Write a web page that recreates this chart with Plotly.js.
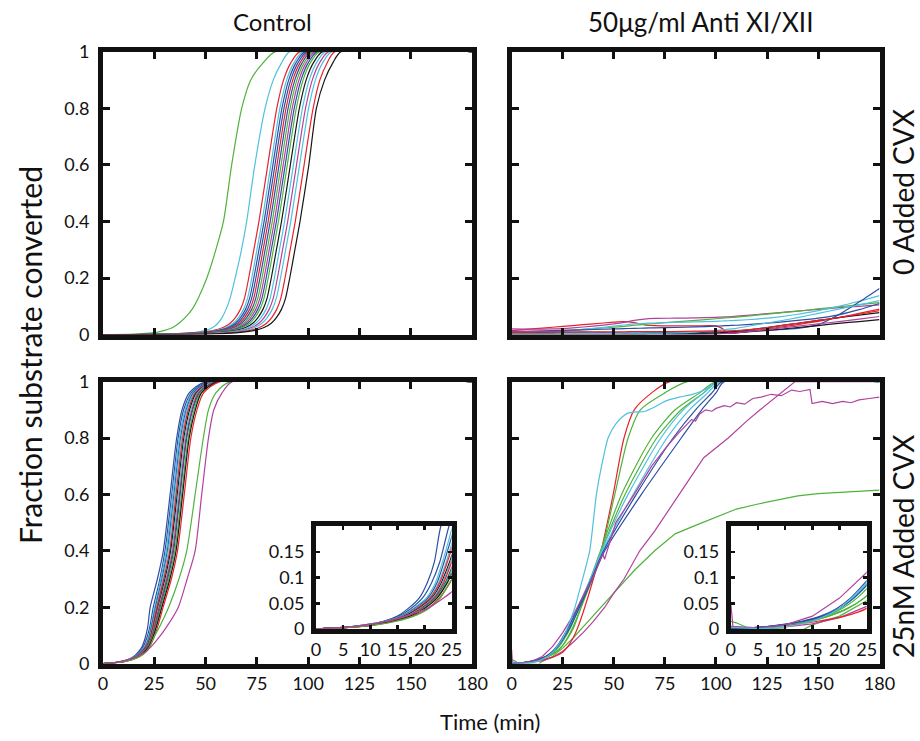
<!DOCTYPE html>
<html>
<head>
<meta charset="utf-8">
<script src="https://cdn.plot.ly/plotly-3.0.1.min.js"></script>
<style>html,body{margin:0;padding:0;background:#fff;}#chart{width:920px;height:741px;}</style>
</head>
<body>
<div id="chart"></div>
<script>
// ---------------- DATA ----------------
// Fraction-converted levels; each sigmoid curve below lists the time (min) at which it reaches each level.
const LEVELS = [0, 0.003, 0.008, 0.015, 0.025, 0.04, 0.06, 0.09, 0.13, 0.2, 0.3, 0.4, 0.6, 0.8, 0.9, 0.96, 1, 1];

// Control, 0 added CVX
const CTRL0_TIMES = [
  [0, 18, 26, 30, 34, 37, 40, 43.5, 46.5, 50.6, 55, 58.7, 62.7, 67.6, 72, 78, 84, 180],
  [0, 35, 45, 50, 53.5, 56, 58, 60, 62, 64.4, 67.5, 70, 74, 79, 83, 87, 91, 180],
  [0, 35, 47, 54, 58.5, 62, 64.5, 67, 69, 71, 73.5, 76, 80.3, 84.7, 88, 91.5, 96, 180],
  [0, 36.5, 48.5, 55.5, 60, 63.5, 66, 68.5, 70.5, 72.5, 75, 77.5, 81.8, 86.2, 89.5, 93, 97.5, 180],
  [0, 37.5, 49.5, 56.5, 61, 64.5, 67, 69.5, 71.5, 73.5, 76, 78.5, 82.8, 87.2, 90.5, 94, 98.5, 180],
  [0, 38.5, 50.5, 57.5, 62, 65.5, 68, 70.5, 72.5, 74.5, 77, 79.5, 83.8, 88.2, 91.5, 95, 99.5, 180],
  [0, 39.5, 51.5, 58.5, 63, 66.5, 69, 71.5, 73.5, 75.5, 78, 80.5, 84.8, 89.2, 92.5, 96, 100.5, 180],
  [0, 40.5, 52.5, 59.5, 64, 67.5, 70, 72.5, 74.5, 76.5, 79, 81.5, 85.8, 90.2, 93.5, 97, 101.5, 180],
  [0, 41.5, 53.5, 60.5, 65, 68.5, 71, 73.5, 75.5, 77.5, 80, 82.5, 86.8, 91.2, 94.5, 98, 102.5, 180],
  [0, 42.5, 54.5, 61.5, 66, 69.5, 72, 74.5, 76.5, 78.5, 81, 83.5, 87.8, 92.2, 95.5, 99, 103.5, 180],
  [0, 43.5, 55.5, 62.5, 67, 70.5, 73, 75.5, 77.5, 79.5, 82, 84.5, 88.8, 93.2, 96.5, 100, 104.5, 180],
  [0, 44.5, 56.5, 63.5, 68, 71.5, 74, 76.5, 78.5, 80.5, 83, 85.5, 89.8, 94.2, 97.5, 101, 105.5, 180],
  [0, 46, 58, 65, 69.5, 73, 75.5, 78, 80, 82, 84.5, 87, 91.3, 95.7, 99, 102.5, 107, 180],
  [0, 47.5, 59.5, 66.5, 71, 74.5, 77, 79.5, 81.5, 83.5, 86, 88.5, 92.8, 97.2, 100.5, 104, 108.5, 180],
  [0, 49, 61, 68, 72.5, 76, 78.5, 81, 83, 85, 87.5, 90, 94.3, 98.7, 102, 105.5, 110, 180],
  [0, 50.5, 62.5, 69.5, 74, 77.5, 80, 82.5, 84.5, 86.5, 89, 91.5, 95.8, 100.2, 103.5, 107, 111.5, 180],
  [0, 52.7, 64.7, 71.7, 76.2, 79.7, 82.2, 84.7, 86.7, 88.7, 91.2, 93.7, 98, 102.4, 105.7, 109.2, 113, 180],
  [0, 55, 67, 74, 78.5, 82, 84.5, 87, 89, 91, 93.5, 96, 100.3, 104, 108, 112, 116, 180]
];
const CTRL0_COLORS = ['g','c','r','c','b','b','r','b','g','m','b','g','k','c','m','c','r','k'];

// Anti XI/XII, 0 added CVX
const ANTI0_TIME = [0, 10, 20, 30, 40, 50, 55, 60, 65, 70, 80, 90, 100, 103, 106, 110, 120, 130, 140, 150, 160, 170, 180];
const ANTI0_VALUES = [
  [0.014, 0.02, 0.026, 0.032, 0.038, 0.044, 0.046, 0.042, 0.034, 0.032, 0.031, 0.031, 0.031, 0.022, 0.004, 0.006, 0.015, 0.025, 0.035, 0.047, 0.06, 0.075, 0.09],
  [0.02, 0.019, 0.02, 0.024, 0.03, 0.038, 0.043, 0.05, 0.055, 0.057, 0.058, 0.059, 0.061, 0.062, 0.063, 0.065, 0.071, 0.077, 0.083, 0.089, 0.095, 0.1, 0.105],
  [0.005, 0.008, 0.012, 0.016, 0.021, 0.026, 0.029, 0.033, 0.036, 0.039, 0.045, 0.05, 0.056, 0.058, 0.06, 0.062, 0.069, 0.076, 0.083, 0.091, 0.098, 0.106, 0.113],
  [0.005, 0.007, 0.01, 0.015, 0.022, 0.03, 0.034, 0.038, 0.04, 0.041, 0.043, 0.045, 0.047, 0.048, 0.049, 0.05, 0.055, 0.062, 0.072, 0.085, 0.1, 0.118, 0.138],
  [0.012, 0.008, 0.006, 0.005, 0.005, 0.005, 0.005, 0.005, 0.006, 0.006, 0.007, 0.008, 0.01, 0.01, 0.011, 0.012, 0.014, 0.017, 0.022, 0.035, 0.07, 0.115, 0.163],
  [0.01, 0.012, 0.014, 0.016, 0.018, 0.02, 0.021, 0.022, 0.023, 0.024, 0.025, 0.027, 0.03, 0.031, 0.032, 0.033, 0.038, 0.043, 0.05, 0.058, 0.07, 0.088, 0.11],
  [0.004, 0.004, 0.004, 0.004, 0.004, 0.004, 0.004, 0.004, 0.005, 0.005, 0.005, 0.005, 0.006, 0.007, 0.009, 0.012, 0.02, 0.03, 0.04, 0.05, 0.06, 0.069, 0.078],
  [0.001, 0.001, 0.001, 0.001, 0.001, 0.001, 0.001, 0.001, 0.001, 0.002, 0.002, 0.002, 0.003, 0.004, 0.005, 0.007, 0.012, 0.018, 0.025, 0.032, 0.04, 0.046, 0.053],
  [0.012, 0.011, 0.01, 0.009, 0.008, 0.007, 0.006, 0.005, 0.004, 0.003, 0.001, 0.0, 0.002, 0.003, 0.004, 0.006, 0.014, 0.022, 0.03, 0.038, 0.046, 0.055, 0.064],
  [0.003, 0.003, 0.003, 0.004, 0.004, 0.004, 0.005, 0.005, 0.005, 0.005, 0.006, 0.009, 0.015, 0.017, 0.019, 0.022, 0.035, 0.047, 0.06, 0.075, 0.09, 0.105, 0.12],
  [0.008, 0.008, 0.009, 0.009, 0.01, 0.01, 0.01, 0.011, 0.011, 0.011, 0.011, 0.012, 0.012, 0.012, 0.013, 0.014, 0.02, 0.03, 0.04, 0.05, 0.06, 0.072, 0.085]
];
const ANTI0_COLORS = ['r','m','g','c','b','b','k','k','m','c','r'];

// Control, 25nM added CVX
const CTRL25_TIMES = [
  [0, 5, 9, 12.5, 15, 17, 19, 20.5, 21.8, 23, 26.5, 29.4, 32.7, 35.9, 38.5, 42, 50, 180],
  [0, 5, 9, 12.5, 15.3, 17.5, 19.6, 21.3, 22.8, 24.5, 27.7, 30.2, 33.5, 36.6, 39.3, 43, 51, 180],
  [0, 5, 9, 12.8, 15.6, 17.9, 20.3, 22, 23.3, 25.2, 28.2, 30.8, 34, 37.2, 40, 43.5, 52, 180],
  [0, 5, 9.5, 13, 15.8, 18.2, 20.6, 22.3, 23.6, 25.6, 28.7, 31.4, 34.6, 37.8, 40.6, 44, 52, 180],
  [0, 5, 9.5, 13, 16, 18.4, 20.9, 22.6, 24, 26, 29.1, 31.8, 35, 38.2, 41, 44.5, 53, 180],
  [0, 5.5, 9.5, 13.2, 16.2, 18.6, 21, 22.8, 24.2, 26.3, 29.6, 32.5, 35.6, 38.8, 41.6, 45, 53, 180],
  [0, 5.5, 10, 13.4, 16.4, 18.9, 21.3, 23.1, 24.6, 26.8, 30.2, 33, 36.2, 39.4, 42.2, 45.5, 54, 180],
  [0, 5.5, 10, 13.5, 16.6, 19.1, 21.5, 23.3, 24.8, 27.1, 30.7, 33.5, 36.7, 39.9, 42.8, 46, 54, 180],
  [0, 5.5, 10, 13.6, 16.8, 19.3, 21.7, 23.5, 25, 27.4, 31.1, 34, 37.3, 40.5, 43.4, 46.5, 55, 180],
  [0, 6, 10.3, 13.8, 17, 19.6, 21.9, 23.8, 25.4, 27.9, 31.5, 34.4, 37.6, 40.8, 43.7, 47, 55, 180],
  [0, 6, 10.5, 14, 17.2, 19.8, 22.1, 24, 25.7, 28.3, 32, 35, 38.3, 41.5, 44.4, 47.5, 56, 180],
  [0, 6, 10.5, 14.2, 17.4, 20, 22.3, 24.2, 26, 28.7, 32.6, 35.6, 38.8, 42, 45, 48, 56, 180],
  [0, 6, 11, 14.5, 17.8, 20.6, 22.7, 24.7, 26.6, 29.3, 33.3, 36.3, 39.6, 42.8, 45.8, 49, 57, 180],
  [0, 6, 11, 14.8, 18, 20.8, 22.9, 24.6, 27.5, 32, 37, 40.8, 44.9, 48.9, 51.4, 55, 62, 180],
  [0, 5, 9.5, 13, 16.5, 20.5, 23.5, 27, 31, 36.7, 41, 44.9, 48.1, 51.4, 54, 58, 63, 180]
];
const CTRL25_COLORS = ['b','b','c','b','c','r','k','c','r','b','g','k','r','g','m'];

// Anti XI/XII, 25nM added CVX (sigmoid curves, level crossing times)
const ANTI25_TIMES = [
  [0, 6, 11, 16, 21, 25, 27.5, 30, 32.5, 35.8, 40, 43.8, 49.7, 55, 60, 68.5, 77.5, 180],
  [0, 5, 10, 14.5, 18, 21.5, 24.5, 27.5, 30.5, 34, 39.5, 44, 50.5, 57, 63, 75, 86, 180],
  [0, 5, 10, 14, 17.5, 20.5, 23.2, 26, 29, 33, 38.5, 43.5, 53.8, 68.5, 80, 92, 100, 180],
  [0, 5, 10, 14.5, 18, 21.5, 24.5, 27.2, 30, 34, 39, 44, 55.5, 71, 83, 94, 101, 180],
  [0, 5, 9.5, 13.5, 17, 20, 22.7, 25.3, 28.5, 32.5, 38.5, 44, 57, 73, 84, 94, 101, 180],
  [0, 5, 9.5, 13.5, 17, 20, 22.5, 25.2, 28.3, 32.8, 38.8, 44.5, 59.5, 76, 87, 96, 102, 180],
  [0, 5, 9, 13, 16.5, 19.5, 22, 24.7, 27.8, 32.6, 39, 45, 61, 79, 90, 98, 103, 180],
  [0, 5, 9.5, 13.5, 17, 20, 22.6, 25.5, 28.7, 33.3, 39.5, 45.6, 63.5, 83, 93, 100, 104, 180]
];
const ANTI25_COLORS = ['r','g','g','g','c','c','b','b'];

// Anti XI/XII, 25nM added CVX (irregular curves, explicit samples)
const ANTI25_CYAN_FAST_T = [0, 5, 10, 15, 20, 25, 28, 31, 34, 38.2, 41.5, 44, 47.2, 51, 55, 57, 60, 65, 70, 75, 82, 88, 94.6, 101, 180];
const ANTI25_CYAN_FAST_Y = [0.003, 0.001, 0.004, 0.015, 0.04, 0.09, 0.14, 0.2, 0.28, 0.4, 0.6, 0.7, 0.8, 0.85, 0.88, 0.888, 0.892, 0.894, 0.91, 0.93, 0.945, 0.954, 0.971, 1.0, 1.0];
const ANTI25_MAG_NOISY_T = [0, 5, 10, 15, 20, 25, 30, 35, 40, 44.6, 45.5, 51, 60, 68.5, 76, 82, 86, 88, 90, 92, 95, 98, 100, 104, 107, 110, 114, 118, 122, 127, 132, 137, 141, 146, 147, 152, 157, 162, 166, 170, 175, 180];
const ANTI25_MAG_NOISY_Y = [0.005, 0.002, 0.008, 0.025, 0.06, 0.11, 0.17, 0.24, 0.31, 0.39, 0.37, 0.5, 0.6, 0.7, 0.77, 0.82, 0.85, 0.865, 0.86, 0.885, 0.9, 0.895, 0.905, 0.915, 0.91, 0.925, 0.92, 0.94, 0.945, 0.955, 0.95, 0.97, 0.965, 0.972, 0.922, 0.93, 0.922, 0.93, 0.925, 0.935, 0.94, 0.945];
const ANTI25_MAG_SLOW_T = [0, 0.4, 2, 5, 10, 15, 20, 25, 30, 35, 40, 45.6, 50, 55, 62.7, 70, 82, 94, 106, 115, 121.6, 130, 138.7, 180];
const ANTI25_MAG_SLOW_Y = [0.05, 0.004, 0.003, 0.002, 0.004, 0.01, 0.022, 0.044, 0.075, 0.11, 0.15, 0.2, 0.25, 0.3, 0.4, 0.47, 0.6, 0.73, 0.8, 0.86, 0.9, 0.95, 1.0, 1.0];
const ANTI25_GREEN_SLOW_T = [0, 1, 3, 10, 11, 13, 15, 20, 25, 30, 35, 40, 45, 50, 55, 60, 70, 80, 90, 100, 110, 120, 130, 140, 150, 160, 170, 180];
const ANTI25_GREEN_SLOW_Y = [0.015, 0.012, 0.003, 0.0, -0.003, -0.003, 0.008, 0.025, 0.055, 0.09, 0.13, 0.17, 0.21, 0.25, 0.29, 0.33, 0.4, 0.46, 0.49, 0.52, 0.548, 0.565, 0.58, 0.595, 0.603, 0.607, 0.612, 0.615];

// Axis ticks
const MAIN_X_TICKS = [0, 25, 50, 75, 100, 125, 150, 180];
const MAIN_Y_TICKS = [0, 0.2, 0.4, 0.6, 0.8, 1];
const MAIN_Y_LABELS = ['0', '0.2', '0.4', '0.6', '0.8', '1'];
const INSET_X_TICKS = [0, 5, 10, 15, 20, 25];
const INSET_Y_TICKS = [0, 0.05, 0.1, 0.15];
const INSET_Y_LABELS = ['0', '0.05', '0.1', '0.15'];

// ---------------- STYLE ----------------
const PALETTE = {b:'#2c4fa3', g:'#4fb23c', r:'#e6232b', c:'#4ec1dd', m:'#b2419d', k:'#161616'};
const FONT = 'Lato, "Open Sans", "DejaVu Sans", sans-serif';
const LW = 1.2;

const traces = [];
function addLevelCurves(timesList, colors, xa, ya) {
  timesList.forEach((t, i) => traces.push({x: t, y: LEVELS, xaxis: xa, yaxis: ya, mode: 'lines',
    line: {color: PALETTE[colors[i]], width: LW, shape: 'spline', smoothing: 0.7}, hoverinfo: 'skip'}));
}
function addXY(x, y, col, xa, ya, smooth) {
  const line = {color: PALETTE[col], width: LW};
  if (smooth) { line.shape = 'spline'; line.smoothing = 0.6; }
  traces.push({x: x, y: y, xaxis: xa, yaxis: ya, mode: 'lines', line: line, hoverinfo: 'skip'});
}

addLevelCurves(CTRL0_TIMES, CTRL0_COLORS, 'x', 'y');
ANTI0_VALUES.forEach((v, i) => addXY(ANTI0_TIME, v, ANTI0_COLORS[i], 'x2', 'y2', true));
addLevelCurves(CTRL25_TIMES, CTRL25_COLORS, 'x3', 'y3');
function addAnti25(xa, ya) {
  addXY(ANTI25_GREEN_SLOW_T, ANTI25_GREEN_SLOW_Y, 'g', xa, ya, false);
  addXY(ANTI25_MAG_SLOW_T, ANTI25_MAG_SLOW_Y, 'm', xa, ya, false);
  addLevelCurves(ANTI25_TIMES, ANTI25_COLORS, xa, ya);
  addXY(ANTI25_MAG_NOISY_T, ANTI25_MAG_NOISY_Y, 'm', xa, ya, false);
  addXY(ANTI25_CYAN_FAST_T, ANTI25_CYAN_FAST_Y, 'c', xa, ya, true);
}
addAnti25('x4', 'y4');
// insets (same data, zoomed)
addLevelCurves(CTRL25_TIMES, CTRL25_COLORS, 'x5', 'y5');
addAnti25('x6', 'y6');

const W = 920, H = 741;
const dx = (a, b) => [a / W, b / W];
const dy = (top, bottom) => [(H - bottom) / H, (H - top) / H];

function axis(extra) {
  return Object.assign({
    showgrid: false, zeroline: false, showline: true, linewidth: 5, linecolor: '#111',
    mirror: 'ticks', ticks: 'inside', ticklen: 7, tickwidth: 3, tickcolor: '#111',
    tickfont: {family: FONT, size: 18, color: '#111'}, fixedrange: true
  }, extra);
}
const mainX = (dom, labels, anchor) => axis({domain: dom, range: [0, 180], tickmode: 'array', tickvals: MAIN_X_TICKS,
  showticklabels: labels, anchor: anchor, ticklabelstandoff: 0});
const mainY = (dom, labels, anchor) => axis({domain: dom, range: [0, 1], tickmode: 'array', tickvals: MAIN_Y_TICKS,
  ticktext: MAIN_Y_LABELS, showticklabels: labels, anchor: anchor, ticklabelstandoff: 5});
const insX = (dom, anchor) => axis({domain: dom, range: [0, 25], tickmode: 'array', tickvals: INSET_X_TICKS,
  anchor: anchor, ticklen: 4, tickwidth: 2.5, ticklabelstandoff: 0});
const insY = (dom, anchor) => axis({domain: dom, range: [0, 0.2], tickmode: 'array', tickvals: INSET_Y_TICKS,
  ticktext: INSET_Y_LABELS, anchor: anchor, ticklen: 4, tickwidth: 2.5, ticklabelstandoff: 3});

const colL = dx(103, 472.4), colR = dx(511.6, 879.5);
const rowT = dy(51.6, 334.6), rowB = dy(381.6, 663.6);

function label(text, x, y, size, angle) {
  return {text: text, x: x / W, y: 1 - y / H, xref: 'paper', yref: 'paper', xanchor: 'center', yanchor: 'middle',
    showarrow: false, textangle: angle || 0, font: {size: size}};
}

const layout = {
  width: W, height: H, margin: {l: 0, r: 0, t: 0, b: 0},
  paper_bgcolor: '#fff', plot_bgcolor: '#fff', showlegend: false,
  font: {family: FONT, color: '#111'},
  xaxis: mainX(colL, false, 'y'), yaxis: mainY(rowT, true, 'x'),
  xaxis2: mainX(colR, false, 'y2'), yaxis2: mainY(rowT, false, 'x2'),
  xaxis3: mainX(colL, true, 'y3'), yaxis3: mainY(rowB, true, 'x3'),
  xaxis4: mainX(colR, true, 'y4'), yaxis4: mainY(rowB, false, 'x4'),
  xaxis5: insX(dx(316, 451.7), 'y5'), yaxis5: insY(dy(526, 629), 'x5'),
  xaxis6: insX(dx(730.8, 866.7), 'y6'), yaxis6: insY(dy(526, 629), 'x6'),
  annotations: [
    label('Control', 272, 22, 24),
    label('50\u03bcg/ml Anti XI/XII', 700, 22, 26),
    label('0 Added CVX', 903, 192, 28, -90),
    label('25nM Added CVX', 903, 546, 28, -90),
    label('Fraction substrate converted', 30, 355, 30, -90),
    label('Time (min)', 490, 721, 22)
  ]
};

Plotly.newPlot('chart', traces, layout, {staticPlot: true, displayModeBar: false});
</script>
</body>
</html>
